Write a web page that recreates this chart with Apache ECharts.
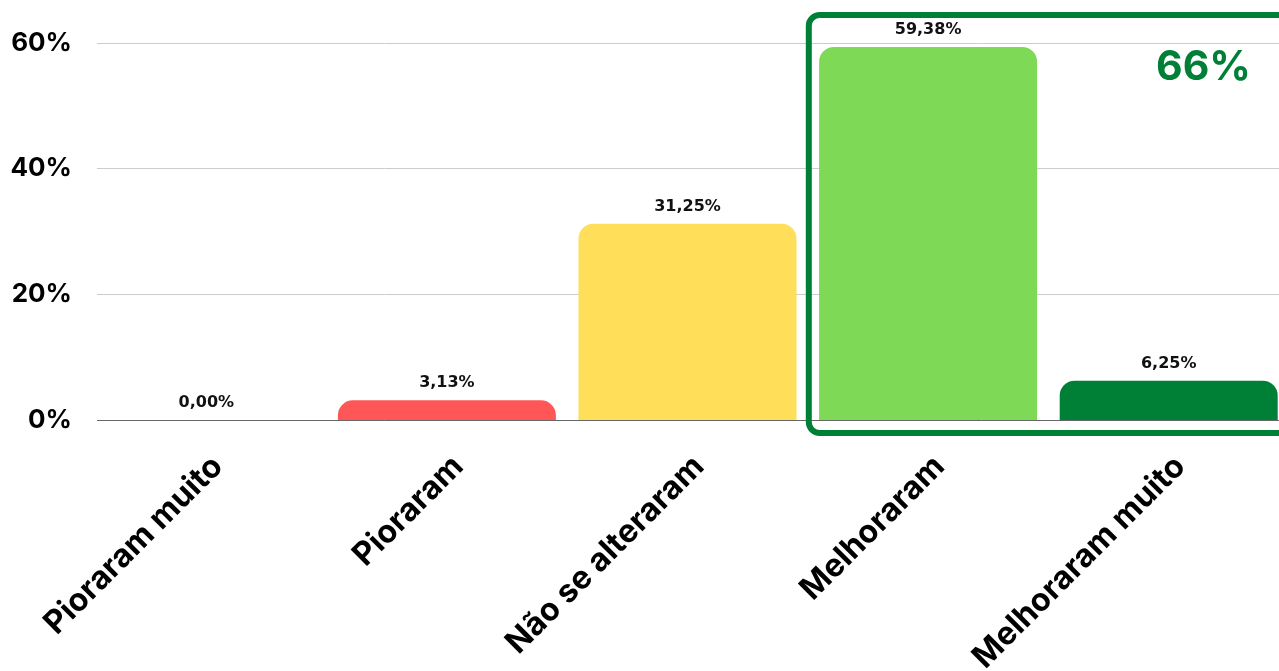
<!DOCTYPE html>
<html>
<head>
    <meta charset="utf-8">
    <title>Resultado</title>
    <script src="https://cdn.jsdelivr.net/npm/echarts@6/dist/echarts.min.js"></script>
    <style type="text/css">
        * {
            margin: 0px;
            padding: 0px;
        }

        #main {
            width: 1279px;
            height: 671px;
            background: #ffffff;
        }
    </style>
</head>
<body>
<div id="main"></div>
<script type="text/javascript">
    // dados
    var categorias = ['Pioraram muito', 'Pioraram', 'Não se alteraram', 'Melhoraram', 'Melhoraram muito'];
    var valores = [0.00, 3.13, 31.25, 59.38, 6.25];
    var cores = ['#FF5757', '#FF5757', '#FFDE59', '#7ED957', '#008037'];
    var ticksY = [0, 20, 40, 60];
    var destaque = '66%';

    var fonte = 'Inter, "DejaVu Sans", sans-serif';
    var myChart = echarts.init(document.getElementById('main'));

    var option = {
        animation: false,
        grid: {
            left: 86,
            width: 1203,
            top: 43,
            height: 377,
            outerBoundsMode: 'none',
            containLabel: false
        },
        xAxis: {
            type: 'category',
            data: categorias,
            axisTick: {show: false},
            axisLine: {lineStyle: {color: '#666666', width: 1}},
            axisLabel: {
                interval: 0,
                rotate: 45,
                margin: 30,
                verticalAlign: 'top',
                color: '#000000',
                fontFamily: fonte,
                fontWeight: 'bold',
                fontSize: 32
            }
        },
        yAxis: {
            type: 'value',
            min: ticksY[0],
            max: ticksY[ticksY.length - 1],
            interval: 20,
            axisLabel: {
                margin: 14,
                color: '#000000',
                fontFamily: fonte,
                fontWeight: 'bold',
                fontSize: 26,
                formatter: '{value}%'
            },
            splitLine: {lineStyle: {color: '#cccccc', width: 1}}
        },
        series: [{
            type: 'bar',
            barWidth: 218,
            data: valores.map(function (v, i) {
                return {value: v, itemStyle: {color: cores[i]}};
            }),
            itemStyle: {borderRadius: [15, 15, 0, 0]},
            label: {
                show: true,
                position: 'top',
                distance: 9,
                color: '#111111',
                fontFamily: '"DejaVu Sans", sans-serif',
                fontWeight: 'bold',
                fontSize: 16,
                formatter: function (p) {
                    return p.value.toFixed(2).replace('.', ',') + '%';
                }
            }
        }]
    };
    myChart.setOption(option);

    // caixa verde em volta das duas ultimas categorias
    var pA = myChart.convertToPixel({xAxisIndex: 0, yAxisIndex: 0}, [2, 60]);
    var pB = myChart.convertToPixel({xAxisIndex: 0, yAxisIndex: 0}, [3, 0]);
    var boxLeft = (pA[0] + pB[0]) / 2 + 1;
    var boxTop = pA[1] - 28;
    var boxBottom = pB[1] + 13;

    myChart.setOption({
        graphic: [{
            type: 'rect',
            z: 50,
            shape: {x: 84, y: pA[1] - 5, width: 13, height: pB[1] - pA[1] + 10},
            style: {fill: '#ffffff'}
        }, {
            type: 'rect',
            z: 100,
            shape: {x: boxLeft, y: boxTop, width: 520, height: boxBottom - boxTop, r: 11},
            style: {fill: 'none', stroke: '#008037', lineWidth: 6}
        }, {
            type: 'text',
            z: 100,
            right: 28,
            top: 47,
            style: {
                text: destaque,
                fill: '#008037',
                font: 'bold 41px ' + fonte
            }
        }]
    });
</script>
</body>
</html>
